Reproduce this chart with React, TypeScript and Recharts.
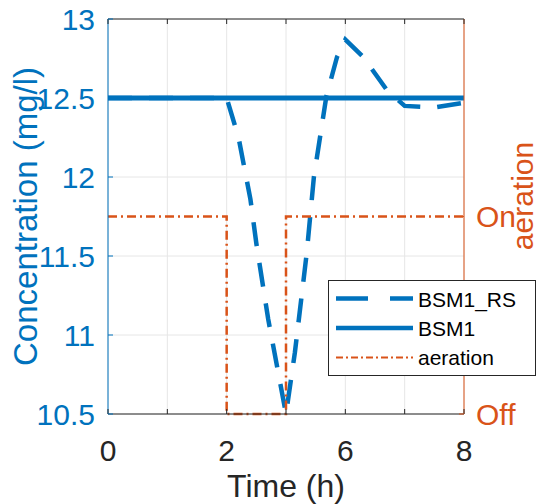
import { LineChart, Line, XAxis, YAxis, CartesianGrid, Legend, ReferenceLine } from "recharts";

const BLUE = "#0072BD";
const ORANGE = "#D95319";
const DARK = "#262626";
const FONT = "'Liberation Sans', Arial, Helvetica, sans-serif";

// axis ticks
const xTicks = [0, 1, 2, 3, 4, 5, 6];
const xTickLabels = ["0", "", "2", "", "6", "", "8"];
const yTicks = [10.5, 11, 11.5, 12, 12.5, 13];
const aerationTicks = [0, 1];
const aerationTickLabels = ["Off", "On"];

// BSM1_RS concentration
const rsTime = [0, 2, 2.2, 2.4, 2.5, 2.7, 2.85, 3, 3.15, 3.35, 3.47, 3.68, 3.86, 4, 4.3, 4.7, 5, 5.5, 6];
const rsConc = [12.5, 12.5, 12.25, 11.86, 11.58, 11.1, 10.8, 10.5, 10.89, 11.52, 12.0, 12.51, 12.76, 12.87, 12.76, 12.55, 12.45, 12.44, 12.47];

// BSM1 concentration
const bsm1Time = [0, 6];
const bsm1Conc = [12.5, 12.5];

// aeration on/off
const aerationTime = [0, 2, 2, 3, 3, 6];
const aerationState = [1, 1, 0, 0, 1, 1];

const rsData = rsTime.map((t, i) => ({ t, v: rsConc[i] }));
const bsm1Data = bsm1Time.map((t, i) => ({ t, v: bsm1Conc[i] }));
const aerationData = aerationTime.map((t, i) => ({ t, a: aerationState[i] }));

const W = 540;
const H = 504;
const PLOT_LEFT = 108;
const PLOT_RIGHT = 464;
const PLOT_TOP = 19;
const PLOT_BOTTOM = 414;

const XTick = (props: any) => {
  const { x, payload } = props;
  const idx = xTicks.indexOf(payload.value);
  return (
    <g>
      <line x1={x} x2={x} y1={PLOT_BOTTOM} y2={PLOT_BOTTOM - 5} stroke={DARK} />
      <line x1={x} x2={x} y1={PLOT_TOP} y2={PLOT_TOP + 5} stroke={DARK} />
      <text x={x} y={461} textAnchor="middle" fontSize={30} fontFamily={FONT} fill={DARK}>
        {xTickLabels[idx]}
      </text>
    </g>
  );
};

const LeftTick = (props: any) => {
  const { y, payload } = props;
  return (
    <g>
      <line x1={PLOT_LEFT} x2={PLOT_LEFT + 5} y1={y} y2={y} stroke={BLUE} />
      <text x={95} y={y + 10.5} textAnchor="end" fontSize={30} fontFamily={FONT} fill={BLUE}>
        {payload.value}
      </text>
    </g>
  );
};

const RightTick = (props: any) => {
  const { y, payload } = props;
  const idx = aerationTicks.indexOf(payload.value);
  return (
    <g>
      <line x1={PLOT_RIGHT} x2={PLOT_RIGHT - 5} y1={y} y2={y} stroke={ORANGE} />
      <text x={476} y={y + 10.5} textAnchor="start" fontSize={30} fontFamily={FONT} fill={ORANGE}>
        {aerationTickLabels[idx]}
      </text>
    </g>
  );
};

const XTitle = () => (
  <text x={(PLOT_LEFT + PLOT_RIGHT) / 2} y={497} textAnchor="middle" fontSize={32} fontFamily={FONT} fill={DARK}>
    Time (h)
  </text>
);

const LeftTitle = () => (
  <text
    transform={`translate(37, ${(PLOT_TOP + PLOT_BOTTOM) / 2}) rotate(-90)`}
    textAnchor="middle"
    fontSize={33}
    fontFamily={FONT}
    fill={BLUE}
  >
    Concentration (mg/l)
  </text>
);

const RightTitle = () => (
  <text
    transform={`translate(533, 196) rotate(-90)`}
    textAnchor="middle"
    fontSize={30}
    fontFamily={FONT}
    fill={ORANGE}
  >
    aeration
  </text>
);

const legendRows = [
  { name: "BSM1_RS", color: BLUE, width: 4.5, dash: "32 22" },
  { name: "BSM1", color: BLUE, width: 4.5, dash: undefined },
  { name: "aeration", color: ORANGE, width: 2, dash: "7 3 2 3" },
];

const LegendBox = () => (
  <svg width={208} height={96} style={{ display: "block" }}>
    <rect x={0.5} y={0.5} width={207} height={95} fill="#fff" stroke={DARK} />
    {legendRows.map((r, i) => (
      <g key={r.name}>
        <line
          x1={8}
          x2={85}
          y1={18.5 + i * 29.5}
          y2={18.5 + i * 29.5}
          stroke={r.color}
          strokeWidth={r.width}
          strokeDasharray={r.dash}
        />
        <text x={90} y={26.5 + i * 29} fontSize={21} fontFamily={FONT} fill="#000">
          {r.name}
        </text>
      </g>
    ))}
  </svg>
);

export default function App() {
  return (
    <div style={{ position: "absolute", left: 0, top: 0, background: "#fff" }}>
      <LineChart width={W} height={H} margin={{ top: PLOT_TOP, right: 16, bottom: 0, left: 0 }}>
        <CartesianGrid yAxisId="left" stroke="#e6e6e6" />
        <XAxis
          dataKey="t"
          type="number"
          domain={[0, 6]}
          ticks={xTicks}
          interval={0}
          height={90}
          axisLine={{ stroke: DARK }}
          tickLine={false}
          tick={XTick}
          label={<XTitle />}
          allowDuplicatedCategory
        />
        <YAxis
          yAxisId="left"
          type="number"
          domain={[10.5, 13]}
          ticks={yTicks}
          interval={0}
          width={108}
          axisLine={{ stroke: BLUE }}
          tickLine={false}
          tick={LeftTick}
          label={<LeftTitle />}
        />
        <YAxis
          yAxisId="right"
          orientation="right"
          type="number"
          domain={[0, 2]}
          ticks={aerationTicks}
          interval={0}
          width={60}
          axisLine={{ stroke: ORANGE }}
          tickLine={false}
          tick={RightTick}
          label={<RightTitle />}
        />
        <ReferenceLine yAxisId="left" y={13} stroke={DARK} />
        <Line
          yAxisId="left"
          data={rsData}
          dataKey="v"
          name="BSM1_RS"
          type="linear"
          stroke={BLUE}
          strokeWidth={4.5}
          strokeDasharray="24 17"
          dot={false}
          isAnimationActive={false}
        />
        <Line
          yAxisId="left"
          data={bsm1Data}
          dataKey="v"
          name="BSM1"
          type="linear"
          stroke={BLUE}
          strokeWidth={5}
          dot={false}
          isAnimationActive={false}
        />
        <Line
          yAxisId="right"
          data={aerationData}
          dataKey="a"
          name="aeration"
          type="linear"
          stroke={ORANGE}
          strokeWidth={2.5}
          strokeDasharray="9 4 2 4"
          dot={false}
          isAnimationActive={false}
        />
        <Legend
          layout="horizontal"
          verticalAlign="middle"
          align="center"
          content={() => <LegendBox />}
          wrapperStyle={{ left: 328, top: 280, width: 208, height: 96 }}
        />
      </LineChart>
    </div>
  );
}
